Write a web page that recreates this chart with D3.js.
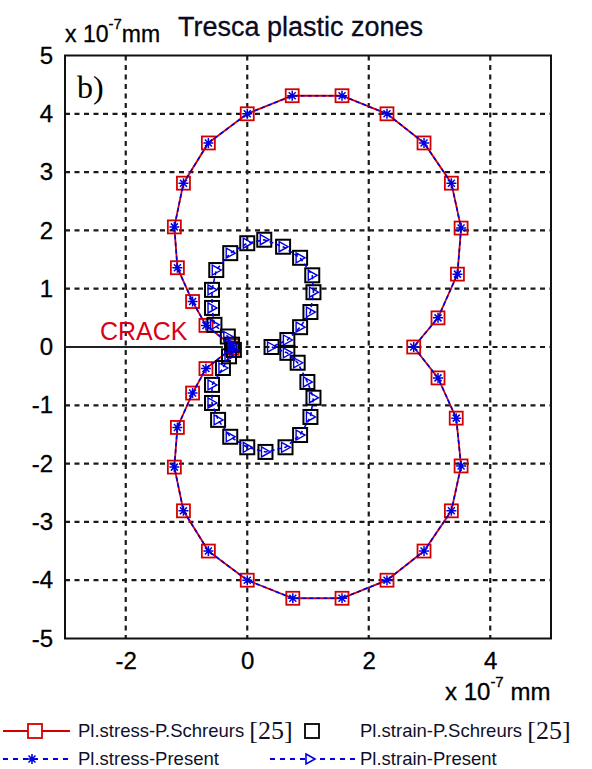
<!DOCTYPE html>
<html>
<head>
<meta charset="utf-8">
<script src="https://cdn.jsdelivr.net/npm/d3@7"></script>
<style>
  html, body { margin: 0; padding: 0; background: #fff; }
  svg { display: block; font-family: Arial, "Liberation Sans", sans-serif; }
</style>
</head>
<body>
<svg id="chart" width="592" height="769"></svg>
<script>
// Tresca plastic zone boundaries around a crack tip (units of 1e-7 mm)

// Plane stress boundary (closed contour starting at the crack tip)
const stressX = [-0.25, -0.68, -0.90, -1.15, -1.20, -1.05, -0.64, 0.00, 0.74, 1.56, 2.30, 2.91, 3.36, 3.52, 3.46, 3.14, 2.74,
                 3.14, 3.44, 3.52, 3.36, 2.91, 2.30, 1.56, 0.75, 0.00, -0.64, -1.05, -1.20, -1.15, -0.90, -0.68, -0.25];
const stressY = [0.02, 0.37, 0.78, 1.36, 2.06, 2.81, 3.50, 4.00, 4.31, 4.31, 4.00, 3.50, 2.81, 2.04, 1.25, 0.50, 0.00,
                 -0.53, -1.22, -2.04, -2.81, -3.50, -4.00, -4.31, -4.31, -4.00, -3.50, -2.81, -2.06, -1.38, -0.79, -0.37, -0.02];

// Plane strain boundary (figure-eight shaped contour)
const strainX = [-0.25, -0.32, -0.54, -0.58, -0.58, -0.51, -0.28, 0.00, 0.28, 0.59, 0.87, 1.07, 1.09, 1.04, 0.87, 0.66, 0.40,
                 0.66, 0.83, 0.99, 1.09, 1.04, 0.87, 0.63, 0.30, 0.00, -0.28, -0.48, -0.58, -0.58, -0.40, -0.30, -0.22];
const strainY = [0.04, 0.18, 0.38, 0.67, 0.98, 1.32, 1.61, 1.78, 1.84, 1.72, 1.53, 1.23, 0.94, 0.60, 0.34, 0.12, 0.00,
                 -0.10, -0.27, -0.60, -0.87, -1.20, -1.51, -1.72, -1.80, -1.72, -1.54, -1.25, -0.96, -0.65, -0.36, -0.16, -0.05];

// Crack faces lie along y = 0 from the left border to the tip
const crackX = [-3, -0.4];

const xTicks = [-2, 0, 2, 4];
const yTicks = [-5, -4, -3, -2, -1, 0, 1, 2, 3, 4, 5];
const xGrid = [-2, 0, 2, 4];
const yGrid = [-4, -3, -2, -1, 0, 1, 2, 3, 4];

const svg = d3.select("#chart");
const plotL = 65, plotR = 551, plotT = 55.5, plotB = 638.5;

const x = d3.scaleLinear().domain([-3, 5]).range([plotL, plotR]);
const y = d3.scaleLinear().domain([-5, 5]).range([plotB, plotT]);

const stressPts = stressX.map((v, i) => [v, stressY[i]]);
const strainPts = strainX.map((v, i) => [v, strainY[i]]);

const RED = "#d40000", BLUE = "#0000e0", GRID = "#1a1a1a";
const SANS = "Arial, 'Liberation Sans', sans-serif";
const SERIF = "'Liberation Serif', 'Times New Roman', serif";

// Grid lines
const grid = svg.append("g");
grid.selectAll("line.gx").data(xGrid).join("line")
  .attr("x1", d => x(d)).attr("x2", d => x(d))
  .attr("y1", plotT).attr("y2", plotB)
  .attr("stroke", GRID).attr("stroke-width", 2.2).attr("stroke-dasharray", "5,4.5");
grid.selectAll("line.gy").data(yGrid).join("line")
  .attr("x1", plotL).attr("x2", plotR)
  .attr("y1", d => y(d)).attr("y2", d => y(d))
  .attr("stroke", GRID).attr("stroke-width", 2.2).attr("stroke-dasharray", "5,4.5");

// Crack line
svg.append("line")
  .attr("x1", x(crackX[0])).attr("x2", x(crackX[1]))
  .attr("y1", y(0)).attr("y2", y(0))
  .attr("stroke", "#222").attr("stroke-width", 2);

// Axes tick labels (plain hyphen for negatives)
const fmt = d => String(d);
const yAxis = d3.axisLeft(y).tickValues(yTicks).tickSize(0).tickPadding(12).tickFormat(fmt);
const gy = svg.append("g").attr("transform", `translate(${plotL},0)`).call(yAxis);
gy.select(".domain").remove();
gy.selectAll("text").attr("font-size", 24).attr("font-family", SANS).attr("fill", "#000")
  .attr("stroke", "#000").attr("stroke-width", 0.3);

const xAxis = d3.axisBottom(x).tickValues(xTicks).tickSize(0).tickPadding(13).tickFormat(fmt);
const gx = svg.append("g").attr("transform", `translate(0,${plotB})`).call(xAxis);
gx.select(".domain").remove();
gx.selectAll("text").attr("font-size", 24).attr("font-family", SANS).attr("fill", "#000")
  .attr("stroke", "#000").attr("stroke-width", 0.3);

// Frame
svg.append("rect")
  .attr("x", plotL).attr("y", plotT).attr("width", plotR - plotL).attr("height", plotB - plotT)
  .attr("fill", "none").attr("stroke", "#111").attr("stroke-width", 2);

const line = d3.line().x(d => x(d[0])).y(d => y(d[1]));

// Plane stress: reference solution (red solid line, square markers)
svg.append("path").attr("d", line(stressPts))
  .attr("fill", "none").attr("stroke", RED).attr("stroke-width", 1.8);
svg.append("g").selectAll("rect").data(stressPts).join("rect")
  .attr("x", d => x(d[0]) - 6.5).attr("y", d => y(d[1]) - 6.5)
  .attr("width", 13).attr("height", 13)
  .attr("fill", "none").attr("stroke", RED).attr("stroke-width", 1.8);

// Plane strain: reference solution (black squares, no line)
svg.append("g").selectAll("rect").data(strainPts).join("rect")
  .attr("x", d => x(d[0]) - 7).attr("y", d => y(d[1]) - 7)
  .attr("width", 14).attr("height", 14)
  .attr("fill", "none").attr("stroke", "#000").attr("stroke-width", 2);

// Plane stress: present solution (blue dashed line, asterisks)
const star = "M-5,0H5M0,-5V5M-3.5,-3.5L3.5,3.5M-3.5,3.5L3.5,-3.5";
svg.append("path").attr("d", line(stressPts))
  .attr("fill", "none").attr("stroke", BLUE).attr("stroke-width", 1.6).attr("stroke-dasharray", "4,3");
svg.append("g").selectAll("path").data(stressPts).join("path")
  .attr("transform", d => `translate(${x(d[0])},${y(d[1])})`)
  .attr("d", star).attr("fill", "none").attr("stroke", BLUE).attr("stroke-width", 1.5);

// Plane strain: present solution (blue dashed line, right-pointing triangles)
const tri = "M-4,-5L5,0L-4,5Z";
svg.append("path").attr("d", line(strainPts))
  .attr("fill", "none").attr("stroke", BLUE).attr("stroke-width", 1.6).attr("stroke-dasharray", "4,3");
svg.append("g").selectAll("path").data(strainPts).join("path")
  .attr("transform", d => `translate(${x(d[0])},${y(d[1])})`)
  .attr("d", tri).attr("fill", "none").attr("stroke", BLUE).attr("stroke-width", 1.4);

// Crack annotation and panel letter
svg.append("text").attr("x", 100).attr("y", 340).text("CRACK")
  .attr("font-size", 25).attr("fill", "#d80018");
svg.append("text").attr("x", 77).attr("y", 98).text("b)")
  .attr("font-family", SERIF).attr("font-size", 32).attr("fill", "#000");

// Unit label on the y axis and title
const yl = svg.append("text").attr("x", 65).attr("y", 42).attr("font-size", 23).attr("fill", "#000")
  .attr("stroke", "#000").attr("stroke-width", 0.3);
yl.append("tspan").text("x 10");
yl.append("tspan").attr("dy", -13).attr("font-size", 15).text("-7");
yl.append("tspan").attr("dy", 13).text("mm");
svg.append("text").attr("x", 178).attr("y", 36).text("Tresca plastic zones")
  .attr("font-size", 27).attr("fill", "#0a0a20").attr("stroke", "#0a0a20").attr("stroke-width", 0.3);

// Unit label on the x axis
const xl = svg.append("text").attr("x", 445).attr("y", 700).attr("font-size", 24).attr("fill", "#000")
  .attr("stroke", "#000").attr("stroke-width", 0.3);
xl.append("tspan").text("x 10");
xl.append("tspan").attr("dy", -13).attr("font-size", 15).text("-7");
xl.append("tspan").attr("dy", 13).text(" mm");

// Legend
const legend = svg.append("g");
const row1 = 731, row2 = 759;
// Row 1, entry 1
legend.append("line").attr("x1", 3).attr("x2", 70).attr("y1", row1).attr("y2", row1)
  .attr("stroke", RED).attr("stroke-width", 1.8);
legend.append("rect").attr("x", 35 - 7).attr("y", row1 - 7).attr("width", 14).attr("height", 14)
  .attr("fill", "#fff").attr("stroke", RED).attr("stroke-width", 1.8);
const t1 = legend.append("text").attr("x", 78).attr("y", row1 + 6).attr("fill", "#10102a");
t1.append("tspan").attr("font-size", 18.5).text("Pl.stress-P.Schreurs ");
t1.append("tspan").attr("font-size", 26).attr("font-family", SERIF).attr("dy", 2).text("[25]");
// Row 1, entry 2
legend.append("rect").attr("x", 312 - 7).attr("y", row1 - 7).attr("width", 14).attr("height", 14)
  .attr("fill", "#fff").attr("stroke", "#000").attr("stroke-width", 1.8);
const t2 = legend.append("text").attr("x", 360).attr("y", row1 + 6).attr("fill", "#10102a");
t2.append("tspan").attr("font-size", 18.5).text("Pl.strain-P.Schreurs ");
t2.append("tspan").attr("font-size", 26).attr("font-family", SERIF).attr("dy", 2).text("[25]");
// Row 2, entry 1
legend.append("line").attr("x1", 3).attr("x2", 70).attr("y1", row2).attr("y2", row2)
  .attr("stroke", BLUE).attr("stroke-width", 1.8).attr("stroke-dasharray", "5,5");
legend.append("path").attr("transform", `translate(32,${row2})`).attr("d", star)
  .attr("fill", "none").attr("stroke", BLUE).attr("stroke-width", 1.6);
legend.append("text").attr("x", 78).attr("y", row2 + 6).attr("font-size", 18.5).attr("fill", "#10102a").text("Pl.stress-Present");
// Row 2, entry 2
legend.append("line").attr("x1", 270).attr("x2", 355).attr("y1", row2).attr("y2", row2)
  .attr("stroke", BLUE).attr("stroke-width", 1.8).attr("stroke-dasharray", "5,5");
legend.append("path").attr("transform", `translate(310,${row2})`).attr("d", tri)
  .attr("fill", "#fff").attr("stroke", BLUE).attr("stroke-width", 1.6);
legend.append("text").attr("x", 360).attr("y", row2 + 6).attr("font-size", 18.5).attr("fill", "#10102a").text("Pl.strain-Present");
</script>
</body>
</html>
